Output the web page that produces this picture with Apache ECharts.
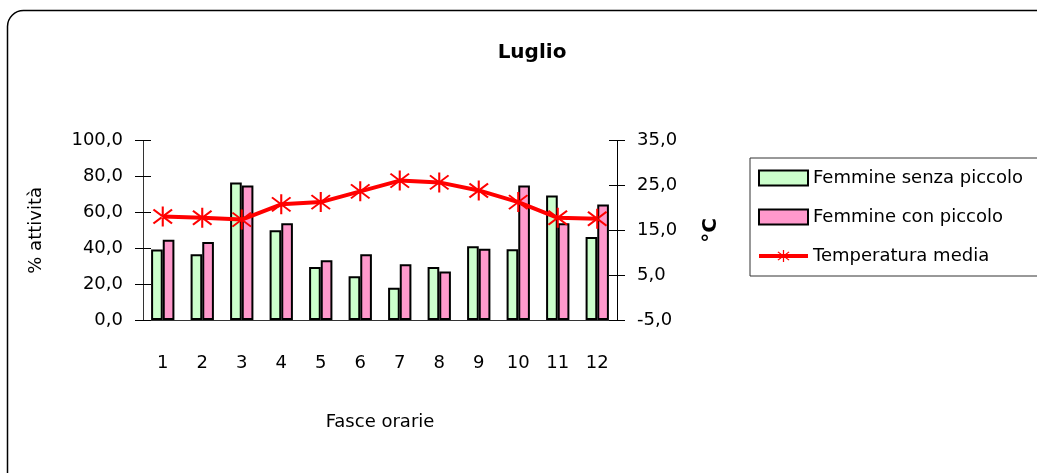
<!DOCTYPE html>
<html>
<head>
<meta charset="utf-8">
<script src="https://cdn.jsdelivr.net/npm/echarts@6/dist/echarts.min.js"></script>
<style>
html,body{margin:0;padding:0;background:#fff;}
#chart{width:1037px;height:473px;}
</style>
</head>
<body>
<div id="chart"></div>
<script>
const categories = ['1','2','3','4','5','6','7','8','9','10','11','12'];
const femmineSenza = [39.3, 36.7, 76.7, 50.0, 29.6, 24.4, 18.0, 29.6, 41.1, 39.4, 69.4, 46.3];
const femmineCon = [44.8, 43.5, 75.0, 54.0, 33.3, 36.7, 31.1, 27.0, 39.8, 75.0, 54.0, 64.4];
const temperatura = [18.1, 17.8, 17.4, 20.8, 21.3, 23.7, 26.1, 25.7, 23.9, 21.3, 17.8, 17.6];
const seriesNames = ['Femmine senza piccolo', 'Femmine con piccolo', 'Temperatura media'];

const FONT = 'DejaVu Sans';
const fmt = v => v.toFixed(1).replace('.', ',');
const starPath = 'path://M9.1 0 L10.9 0 L10.9 20 L9.1 20 Z M2.6 2.3 L18.6 16.3 L17.4 17.7 L1.4 3.7 Z M17.4 2.3 L1.4 16.3 L2.6 17.7 L18.6 3.7 Z';

const chart = echarts.init(document.getElementById('chart'), null, {renderer: 'canvas'});
const axisLineStyle = {color: '#333', width: 1};
chart.setOption({
  animation: false,
  backgroundColor: '#fff',
  textStyle: {fontFamily: FONT, color: '#000'},
  graphic: [{
    type: 'rect', z: -10, silent: true,
    shape: {x: 7.5, y: 10.5, width: 1045, height: 480, r: 16},
    style: {fill: 'none', stroke: '#000', lineWidth: 1.5}
  }],
  title: {
    text: 'Luglio', left: 527, top: 38, textAlign: 'center',
    textStyle: {fontFamily: FONT, fontSize: 20, fontWeight: 'bold', color: '#000'}
  },
  legend: {
    orient: 'vertical', left: 750, top: 158,
    padding: [11, 40, 11, 7], itemGap: 21,
    itemWidth: 49, itemHeight: 15,
    borderColor: '#333', borderWidth: 1,
    lineStyle: {width: 4},
    textStyle: {fontFamily: FONT, fontSize: 18, color: '#000'},
    data: [
      {name: seriesNames[0], icon: 'rect'},
      {name: seriesNames[1], icon: 'rect'},
      {name: seriesNames[2]}
    ]
  },
  grid: {left: 143, right: 420, top: 140.7, bottom: 153, containLabel: false},
  xAxis: [{
    type: 'category', data: categories,
    name: 'Fasce orarie', nameLocation: 'middle', nameGap: 93,
    nameTextStyle: {fontFamily: FONT, fontSize: 18, color: '#000'},
    axisLine: {lineStyle: axisLineStyle},
    axisTick: {length: 8, lineStyle: {color: '#000'}},
    axisLabel: {margin: 34, fontFamily: FONT, fontSize: 18, color: '#000'}
  }, {
    type: 'category', data: categories, position: 'bottom',
    axisLine: {show: false}, axisLabel: {show: false},
    axisTick: {inside: true, length: 8, lineStyle: {color: '#000'}}
  }],
  yAxis: [{
    type: 'value', min: 0, max: 100, interval: 20, position: 'left',
    name: '% attività', nameLocation: 'middle', nameGap: 98, nameRotate: 90,
    nameTextStyle: {fontFamily: FONT, fontSize: 18, color: '#000'},
    axisLine: {show: true, lineStyle: axisLineStyle},
    axisTick: {show: true, length: 8, lineStyle: {color: '#000'}},
    axisLabel: {margin: 20, fontFamily: FONT, fontSize: 18, color: '#000', formatter: fmt},
    splitLine: {show: false}
  }, {
    type: 'value', min: -5, max: 35, interval: 10, position: 'right',
    name: '°C', nameLocation: 'middle', nameGap: 84, nameRotate: 90,
    nameTextStyle: {fontFamily: FONT, fontSize: 20, fontWeight: 'bold', color: '#000'},
    axisLine: {show: true, lineStyle: {color: '#000', width: 1}},
    axisTick: {show: true, length: 8, lineStyle: {color: '#000'}},
    axisLabel: {margin: 20, fontFamily: FONT, fontSize: 18, color: '#000', formatter: fmt},
    splitLine: {show: false}
  }, {
    type: 'value', min: 0, max: 100, interval: 20, position: 'left',
    axisLine: {show: false}, axisLabel: {show: false}, splitLine: {show: false},
    axisTick: {show: true, inside: true, length: 8, lineStyle: {color: '#000'}}
  }, {
    type: 'value', min: -5, max: 35, interval: 10, position: 'right',
    axisLine: {show: false}, axisLabel: {show: false}, splitLine: {show: false},
    axisTick: {show: true, inside: true, length: 8, lineStyle: {color: '#000'}}
  }],
  series: [{
    name: seriesNames[0], type: 'bar', data: femmineSenza,
    xAxisIndex: 0, yAxisIndex: 0,
    barGap: '0%', barCategoryGap: '41%',
    itemStyle: {color: '#ccffcc', borderColor: '#000', borderWidth: 2}
  }, {
    name: seriesNames[1], type: 'bar', data: femmineCon,
    xAxisIndex: 0, yAxisIndex: 0,
    barGap: '0%', barCategoryGap: '41%',
    itemStyle: {color: '#ff99cc', borderColor: '#000', borderWidth: 2}
  }, {
    name: seriesNames[2], type: 'line', data: temperatura,
    xAxisIndex: 0, yAxisIndex: 1, z: 5,
    symbol: starPath, symbolSize: 20,
    lineStyle: {color: '#ff0000', width: 4},
    itemStyle: {color: '#ff0000'}
  }]
});
</script>
</body>
</html>
